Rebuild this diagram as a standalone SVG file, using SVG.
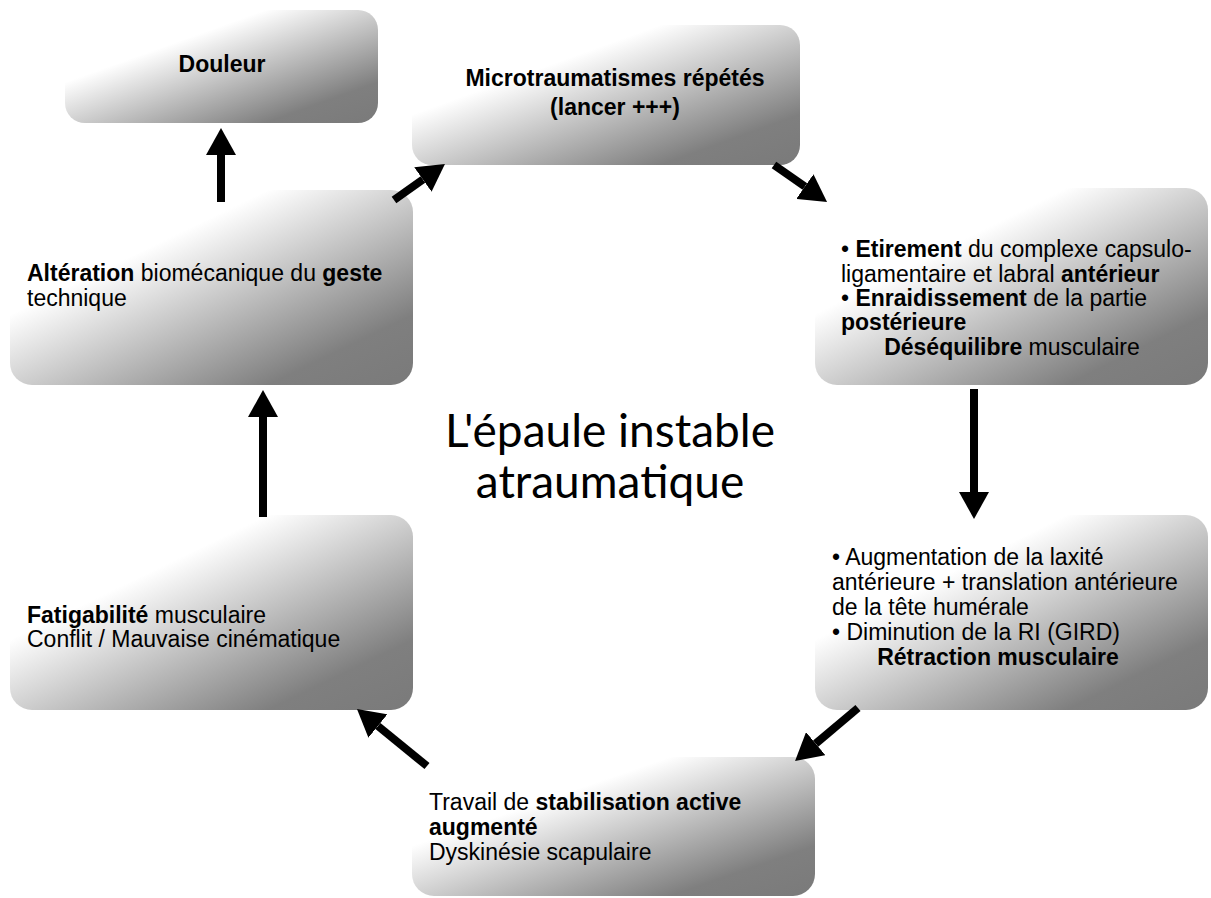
<svg xmlns="http://www.w3.org/2000/svg" width="1211" height="898" viewBox="0 0 1211 898">
<style>
.box{fill:url(#g);}
.t{font-family:"Liberation Sans",Arial,sans-serif;font-size:23px;fill:#000;}
.b{font-weight:bold;}
.c{text-anchor:middle;}
.title{font-family:Lato,"Open Sans",sans-serif;font-size:46px;fill:#000;text-anchor:middle;}
.arr{stroke:#000;stroke-width:8;fill:none;marker-end:url(#ah);}
</style>
<defs>
<linearGradient id="g" x1="0" y1="0" x2="1" y2="1">
<stop offset="0" stop-color="#ffffff"/>
<stop offset="0.32" stop-color="#ffffff"/>
<stop offset="0.82" stop-color="#7f7f7f"/>
<stop offset="1" stop-color="#7a7a7a"/>
</linearGradient>
<marker id="ah" markerUnits="userSpaceOnUse" markerWidth="28" markerHeight="30" refX="0" refY="15" orient="auto" viewBox="0 0 28 30">
<path d="M0,0 L27,15 L0,30 z" fill="#000"/>
</marker>
</defs>
<rect width="1211" height="898" fill="#fff"/>

<g id="n-douleur">
<rect class="box" x="65" y="10" width="313" height="113" rx="20"/>
<text class="t b c" x="222" y="72">Douleur</text>
</g>

<g id="n-micro">
<rect class="box" x="412" y="25" width="388" height="140" rx="20"/>
<text class="t b c" x="615" y="86">Microtraumatismes répétés</text>
<text class="t b c" x="615" y="115">(lancer +++)</text>
</g>

<g id="n-etirement">
<rect class="box" x="815" y="188" width="393" height="197" rx="22"/>
<text class="t" x="841" y="257">• <tspan class="b">Etirement</tspan> du complexe capsulo-</text>
<text class="t" x="841" y="282">ligamentaire et labral <tspan class="b">antérieur</tspan></text>
<text class="t" x="841" y="306">• <tspan class="b">Enraidissement</tspan> de la partie</text>
<text class="t b" x="841" y="330">postérieure</text>
<text class="t c" x="1012" y="355"><tspan class="b">Déséquilibre</tspan> musculaire</text>
</g>

<g id="n-retraction">
<rect class="box" x="815" y="515" width="393" height="195" rx="22"/>
<text class="t" x="832" y="565">• Augmentation de la laxité</text>
<text class="t" x="832" y="590">antérieure + translation antérieure</text>
<text class="t" x="832" y="615">de la tête humérale</text>
<text class="t" x="832" y="640">• Diminution de la RI (GIRD)</text>
<text class="t b c" x="998" y="665">Rétraction musculaire</text>
</g>

<g id="n-travail">
<rect class="box" x="412" y="757" width="403" height="139" rx="22"/>
<text class="t" x="429" y="810">Travail de <tspan class="b">stabilisation active</tspan></text>
<text class="t b" x="429" y="835">augmenté</text>
<text class="t" x="429" y="860">Dyskinésie scapulaire</text>
</g>

<g id="n-fatigabilite">
<rect class="box" x="10" y="515" width="403" height="195" rx="22"/>
<text class="t" x="27" y="623"><tspan class="b">Fatigabilité</tspan> musculaire</text>
<text class="t" x="27" y="647">Conflit / Mauvaise cinématique</text>
</g>

<g id="n-alteration">
<rect class="box" x="10" y="190" width="403" height="195" rx="22"/>
<text class="t" x="27" y="281"><tspan class="b">Altération</tspan> biomécanique du <tspan class="b">geste</tspan></text>
<text class="t" x="27" y="306">technique</text>
</g>

<g id="n-title">
<text class="title"><tspan x="610" y="447">L'épaule instable</tspan><tspan x="610" y="498">atraumatique</tspan></text>
</g>

<g id="connectors">
<line class="arr" x1="221" y1="202" x2="221" y2="155"/>
<line class="arr" x1="263" y1="517" x2="263" y2="417"/>
<line class="arr" x1="394" y1="200" x2="422.9" y2="179.6"/>
<line class="arr" x1="774" y1="165" x2="804.9" y2="186.5"/>
<line class="arr" x1="974" y1="389" x2="974" y2="492"/>
<line class="arr" x1="858" y1="708" x2="815.7" y2="743.6"/>
<line class="arr" x1="427" y1="766" x2="377.9" y2="726"/>
</g>
</svg>
